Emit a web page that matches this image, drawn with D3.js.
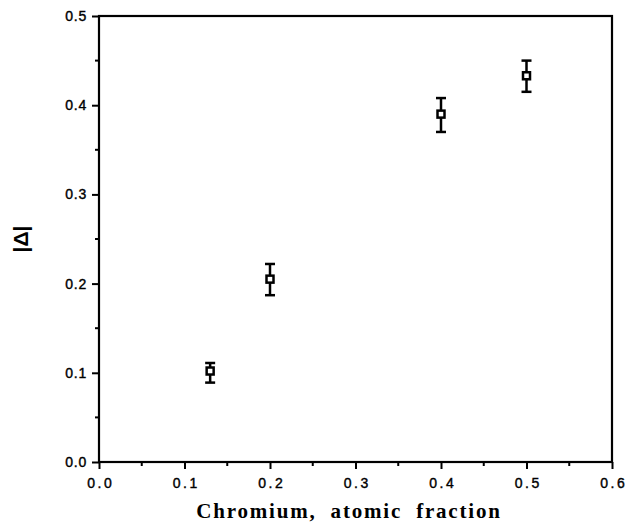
<!DOCTYPE html>
<html>
<head>
<meta charset="utf-8">
<script src="https://cdn.jsdelivr.net/npm/d3@7"></script>
<style>
  html, body { margin: 0; padding: 0; background: #fff; }
  svg { display: block; }
</style>
</head>
<body>
<svg id="chart" width="627" height="529"></svg>
<script>
// Data
const chromium = [0.13, 0.20, 0.40, 0.50];
const deltaAbs = [0.102, 0.205, 0.390, 0.433];
const errLow   = [0.089, 0.187, 0.370, 0.415];
const errHigh  = [0.111, 0.222, 0.408, 0.450];
const xTicks = [0.0, 0.1, 0.2, 0.3, 0.4, 0.5, 0.6];
const yTicks = [0.0, 0.1, 0.2, 0.3, 0.4, 0.5];
const xMinor = [0.05, 0.15, 0.25, 0.35, 0.45, 0.55];
const yMinor = [0.05, 0.15, 0.25, 0.35, 0.45];
const xTitle = "Chromium,  atomic  fraction";
const yTitle = "|Δ|";

const svg = d3.select("#chart");
const pLeft = 99, pRight = 612, pTop = 16, pBottom = 462;

const x = d3.scaleLinear().domain([0, 0.6]).range([pLeft, pRight]);
const y = d3.scaleLinear().domain([0, 0.5]).range([pBottom, pTop]);

// Frame
svg.append("rect")
  .attr("x", pLeft).attr("y", pTop)
  .attr("width", pRight - pLeft).attr("height", pBottom - pTop)
  .attr("fill", "none").attr("stroke", "#000").attr("stroke-width", 2.2);

// X axis
const xAxis = d3.axisBottom(x).tickValues(xTicks).tickFormat(d3.format(".1f")).tickSize(7).tickPadding(9);
const gx = svg.append("g").attr("transform", `translate(0,${pBottom})`).call(xAxis);
gx.select(".domain").remove();
gx.selectAll(".tick line").attr("stroke", "#000").attr("stroke-width", 2);
gx.selectAll(".tick text")
  .attr("font-family", "Liberation Sans, Arial, sans-serif")
  .attr("font-size", 14).attr("letter-spacing", "2.5px").attr("fill", "#000")
  .attr("stroke", "#000").attr("stroke-width", 0.4)
  .attr("dx", "1.2px");
svg.append("g").selectAll("line").data(xMinor).join("line")
  .attr("x1", d => x(d)).attr("x2", d => x(d))
  .attr("y1", pBottom).attr("y2", pBottom + 4)
  .attr("stroke", "#000").attr("stroke-width", 2);

// Y axis
const yAxis = d3.axisLeft(y).tickValues(yTicks).tickFormat(d3.format(".1f")).tickSize(7).tickPadding(5);
const gy = svg.append("g").attr("transform", `translate(${pLeft},0)`).call(yAxis);
gy.select(".domain").remove();
gy.selectAll(".tick line").attr("stroke", "#000").attr("stroke-width", 2);
gy.selectAll(".tick text")
  .attr("font-family", "Liberation Sans, Arial, sans-serif")
  .attr("font-size", 14).attr("letter-spacing", "0.8px").attr("fill", "#000")
  .attr("stroke", "#000").attr("stroke-width", 0.4);
svg.append("g").selectAll("line").data(yMinor).join("line")
  .attr("x1", pLeft - 4).attr("x2", pLeft)
  .attr("y1", d => y(d)).attr("y2", d => y(d))
  .attr("stroke", "#000").attr("stroke-width", 2);

// Error bars
const pts = chromium.map((c, i) => ({c, v: deltaAbs[i], lo: errLow[i], hi: errHigh[i]}));
const eb = svg.append("g");
eb.selectAll("line.v").data(pts).join("line").attr("class", "v")
  .attr("x1", d => x(d.c)).attr("x2", d => x(d.c))
  .attr("y1", d => y(d.lo)).attr("y2", d => y(d.hi))
  .attr("stroke", "#000").attr("stroke-width", 2.5);
eb.selectAll("line.ct").data(pts).join("line").attr("class", "ct")
  .attr("x1", d => x(d.c) - 5).attr("x2", d => x(d.c) + 5)
  .attr("y1", d => y(d.hi)).attr("y2", d => y(d.hi))
  .attr("stroke", "#000").attr("stroke-width", 2.5);
eb.selectAll("line.cb").data(pts).join("line").attr("class", "cb")
  .attr("x1", d => x(d.c) - 5).attr("x2", d => x(d.c) + 5)
  .attr("y1", d => y(d.lo)).attr("y2", d => y(d.lo))
  .attr("stroke", "#000").attr("stroke-width", 2.5);

// Markers (open squares)
svg.append("g").selectAll("rect").data(pts).join("rect")
  .attr("x", d => x(d.c) - 3.5).attr("y", d => y(d.v) - 3.5)
  .attr("width", 7).attr("height", 7)
  .attr("fill", "#fff").attr("stroke", "#000").attr("stroke-width", 2.5);

// Titles
svg.append("text")
  .attr("x", 349).attr("y", 518)
  .attr("text-anchor", "middle")
  .attr("font-family", "Liberation Serif, Times New Roman, serif")
  .attr("font-weight", "bold").attr("font-size", 21).attr("letter-spacing", "1.8px")
  .attr("fill", "#000")
  .attr("xml:space", "preserve")
  .style("white-space", "pre")
  .text(xTitle);

svg.append("text")
  .attr("transform", "translate(28,239) rotate(-90)")
  .attr("text-anchor", "middle")
  .attr("font-family", "Liberation Sans, Arial, sans-serif")
  .attr("font-weight", "bold").attr("font-size", 21)
  .attr("fill", "#000")
  .text(yTitle);
</script>
</body>
</html>
